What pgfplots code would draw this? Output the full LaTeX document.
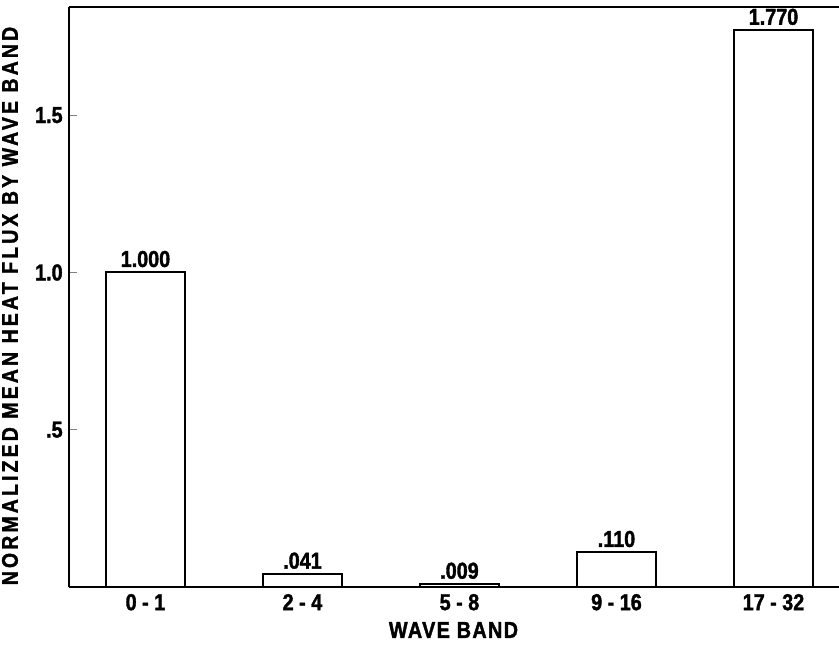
\documentclass[border=0pt]{standalone}
\usepackage{pgfplots}
\pgfplotsset{compat=1.18}
\usepackage{pgfplotstable}
\usepackage{fontspec}
\setmainfont{Liberation Sans}[UprightFont={* Bold}, BoldFont={* Bold}, FakeStretch=0.86, FakeBold=1.6]
\pgfplotstableread{
x y lab
0 1.000 1.000
1 0.041 .041
2 0.009 .009
3 0.110 .110
4 1.770 1.770
}\fluxdata
\begin{document}
\begin{tikzpicture}
\begin{axis}[
  at={(34.25pt,28.5pt)}, anchor=south west,
  scale only axis, width=385pt, height=290pt,
  xmin=-0.49, xmax=4.414, ymin=0, ymax=1.844,
  separate axis lines,
  axis x line*=box, axis y line*=left,
  x axis line style={-}, y axis line style={-},
  axis line style={line width=1pt},
  xtick={0,1,2,3,4},
  xticklabels={0 - 1,2 - 4,5 - 8,9 - 16,17 - 32},
  major x tick style={draw=none},
  ytick={0.5,1,1.5}, yticklabels={.5,1.0,1.5},
  ytick pos=left, tick align=inside, major tick length=4pt,
  major y tick style={line width=0.6pt},
  ticklabel style={font=\fontsize{11.5}{13}\selectfont},
  yticklabel style={xshift=0.6pt},
  xticklabel style={yshift=4pt},
  xlabel={WAVE BAND},
  ylabel={NORMALIZED MEAN HEAT FLUX BY WAVE BAND},
  xlabel style={font=\fontsize{11.5}{13}\selectfont\addfontfeatures{LetterSpace=6}, at={(axis description cs:0.5,-0.0741)}, anchor=center},
  ylabel style={font=\fontsize{11.3}{13}\selectfont\addfontfeatures{LetterSpace=14}, at={(axis description cs:-0.076,0.4845)}, anchor=center},
  ybar, bar width=0.5,
  nodes near coords={\pgfplotspointmeta},
  point meta=explicit symbolic,
  every node near coord/.append style={font=\fontsize{11.5}{13}\selectfont, yshift=-1.2pt},
]
\addplot[draw=black, fill=white, line width=1pt] table[x=x, y=y, meta=lab] {\fluxdata};
\end{axis}
\pgfresetboundingbox
\path[use as bounding box] (0,0) rectangle (419.5pt,322pt);
\end{tikzpicture}
\end{document}
